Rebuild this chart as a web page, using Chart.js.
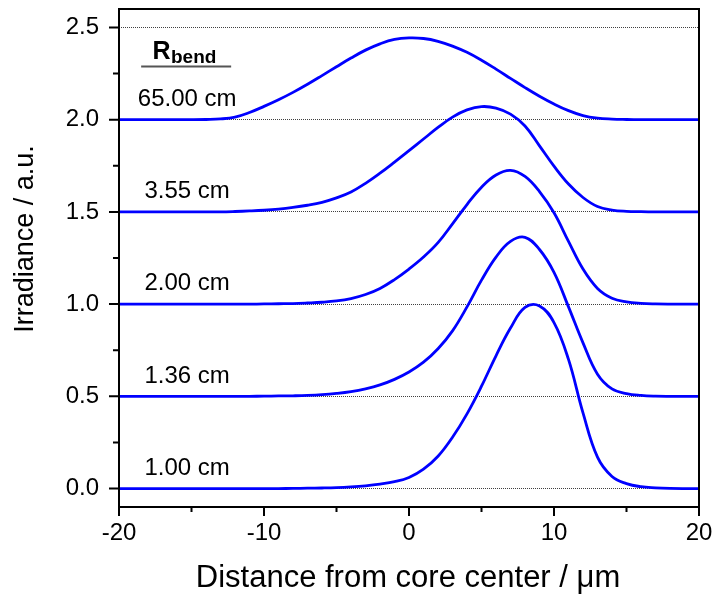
<!DOCTYPE html>
<html>
<head>
<meta charset="utf-8">
<script src="https://cdn.jsdelivr.net/npm/chart.js@4"></script>
<style>
  html, body { margin: 0; padding: 0; background: #fff; }
  #wrap { width: 717px; height: 596px; }
</style>
</head>
<body>
<div id="wrap"><canvas id="irr" width="717" height="596"></canvas></div>
<script>
// ── data ──────────────────────────────────────────────────────
// distance from core center (µm), shared by all curves
const distance = [-20, -19, -18, -17, -16, -15, -14, -13, -12, -11, -10, -9, -8, -7, -6, -5, -4, -3, -2, -1,
                  0, 1, 2, 3, 4, 5, 6, 7, 8, 9, 10, 11, 12, 13, 14, 15, 16, 17, 18, 19, 20];

// irradiance (a.u.), each curve stacked 0.5 above the previous one
const irr100 = [0, 0, 0, 0, 0, 0, 0, 0, 0, 0, 0, 0, 0.001, 0.002, 0.003, 0.005, 0.009, 0.015, 0.024, 0.037,
                0.06, 0.105, 0.175, 0.278, 0.405, 0.555, 0.72, 0.87, 0.982, 0.99, 0.9, 0.70, 0.41, 0.17, 0.065, 0.027, 0.01, 0.004, 0.001, 0, 0];
const irr136 = [0.5, 0.5, 0.5, 0.5, 0.5, 0.5, 0.5, 0.5, 0.5, 0.5, 0.501, 0.502, 0.503, 0.505, 0.509, 0.516, 0.526, 0.541, 0.562, 0.592,
                0.632, 0.685, 0.758, 0.855, 0.985, 1.13, 1.255, 1.34, 1.362, 1.296, 1.172, 0.985, 0.79, 0.62, 0.54, 0.515, 0.505, 0.501, 0.5, 0.5, 0.5];
const irr200 = [1.0, 1.0, 1.0, 1.0, 1.0, 1.0, 1.0, 1.0, 1.0, 1.0, 1.001, 1.002, 1.003, 1.006, 1.01, 1.017, 1.03, 1.052, 1.085, 1.133,
                1.19, 1.255, 1.333, 1.435, 1.54, 1.634, 1.7, 1.725, 1.692, 1.61, 1.495, 1.34, 1.19, 1.085, 1.032, 1.012, 1.004, 1.001, 1.0, 1.0, 1.0];
const irr355 = [1.5, 1.5, 1.5, 1.5, 1.5, 1.5, 1.5, 1.5, 1.502, 1.505, 1.509, 1.515, 1.524, 1.536, 1.552, 1.576, 1.608, 1.655, 1.71, 1.77,
                1.832, 1.895, 1.958, 2.014, 2.053, 2.071, 2.063, 2.03, 1.966, 1.858, 1.748, 1.651, 1.578, 1.529, 1.51, 1.503, 1.501, 1.5, 1.5, 1.5, 1.5];
const irr6500 = [2.0, 2.0, 2.0, 2.0, 2.0, 2.0, 2.001, 2.004, 2.014, 2.039, 2.072, 2.108, 2.148, 2.192, 2.239, 2.287, 2.334, 2.377, 2.411, 2.435,
                 2.443, 2.44, 2.425, 2.399, 2.365, 2.322, 2.274, 2.224, 2.174, 2.127, 2.085, 2.049, 2.022, 2.008, 2.003, 2.001, 2.0, 2.0, 2.0, 2.0, 2.0];

const bendRadii = ['1.00 cm', '1.36 cm', '2.00 cm', '3.55 cm', '65.00 cm'];
const baselines = [0, 0.5, 1.0, 1.5, 2.0];
const curves = [irr100, irr136, irr200, irr355, irr6500];

const xMajor = [-20, -10, 0, 10, 20];
const xMinor = [-15, -5, 5, 15];
const yMajor = [0, 0.5, 1.0, 1.5, 2.0, 2.5];
const yMinor = [0.25, 0.75, 1.25, 1.75, 2.25];

const FONT = '"Liberation Sans", Arial, sans-serif';

// frame, tick marks and the text that sits on the plot
const decor = {
    id: 'decor',
    afterDatasetsDraw(chart) {
        const { ctx, chartArea: a, scales: { x, y } } = chart;
        ctx.save();
        ctx.strokeStyle = '#000';
        ctx.lineWidth = 2;
        ctx.strokeRect(a.left, a.top, a.right - a.left, a.bottom - a.top);
        ctx.beginPath();
        y.ticks.forEach(t => {
            const py = y.getPixelForValue(t.value);
            const len = yMajor.includes(t.value) ? 10 : 6;
            ctx.moveTo(a.left - len, py); ctx.lineTo(a.left, py);
        });
        x.ticks.forEach(t => {
            const px = x.getPixelForValue(t.value);
            const len = xMajor.includes(t.value) ? 9 : 5;
            ctx.moveTo(px, a.bottom); ctx.lineTo(px, a.bottom + len);
        });
        ctx.stroke();
        ctx.restore();
    },
    afterDraw(chart) {
        const { ctx, chartArea: a, scales: { x, y } } = chart;
        ctx.save();
        ctx.fillStyle = '#000';

        // curve labels
        const cx = x.getPixelForValue(-15.3);
        ctx.font = '24px ' + FONT;
        ctx.textAlign = 'center';
        ctx.textBaseline = 'middle';
        bendRadii.forEach((lab, i) => ctx.fillText(lab, cx, y.getPixelForValue(baselines[i] + 0.11)));

        // R_bend header
        const top = y.getPixelForValue(2.5);
        ctx.textAlign = 'left';
        ctx.textBaseline = 'alphabetic';
        ctx.font = 'bold 25px ' + FONT;
        const rx = cx - 34.7;
        ctx.fillText('R', rx, top + 31.7);
        const rw = ctx.measureText('R').width;
        ctx.font = 'bold 19px ' + FONT;
        ctx.fillText('bend', rx + rw + 0.5, top + 35.7);
        ctx.strokeStyle = '#555';
        ctx.lineWidth = 2;
        ctx.beginPath();
        ctx.moveTo(cx - 46, top + 39); ctx.lineTo(cx + 44, top + 39);
        ctx.stroke();

        // axis titles
        ctx.textAlign = 'center';
        ctx.font = '31px ' + FONT;
        ctx.fillText('Distance from core center / \u03bcm', (a.left + a.right) / 2 - 1, 586.5);
        ctx.translate(33, 239);
        ctx.rotate(-Math.PI / 2);
        ctx.font = '27px ' + FONT;
        ctx.fillText('Irradiance / a.u.', 0, 0);
        ctx.restore();
    }
};

const chart = new Chart(document.getElementById('irr'), {
    type: 'line',
    data: {
        datasets: curves.map((ys, i) => ({
            label: bendRadii[i],
            data: distance.map((d, j) => ({ x: d, y: ys[j] })),
            borderColor: '#0000ff',
            borderWidth: 2.8,
            pointRadius: 0,
            fill: false,
            tension: 0.4
        }))
    },
    options: {
        responsive: false,
        animation: false,
        devicePixelRatio: 1,
        layout: { padding: { left: 0, top: 9, right: 18, bottom: 0 } },
        plugins: { legend: { display: false }, tooltip: { enabled: false } },
        scales: {
            x: {
                type: 'linear', min: -20, max: 20,
                afterBuildTicks: s => { s.ticks = xMajor.concat(xMinor).sort((p, q) => p - q).map(v => ({ value: v })); },
                afterFit: s => { s.height = 89; s.paddingLeft = 0; s.paddingRight = 0; },
                grid: { display: false, drawTicks: false },
                border: { display: false },
                ticks: {
                    autoSkip: false, maxRotation: 0, padding: 12, color: '#000',
                    font: { family: FONT, size: 24 },
                    callback: v => xMajor.includes(v) ? String(v) : ''
                }
            },
            y: {
                min: -0.1, max: 2.6,
                afterBuildTicks: s => { s.ticks = yMajor.concat(yMinor).sort((p, q) => p - q).map(v => ({ value: v })); },
                afterFit: s => { s.width = 119; s.paddingTop = 0; s.paddingBottom = 0; },
                grid: {
                    drawTicks: false, lineWidth: 1,
                    color: c => yMajor.includes(c.tick.value) ? 'rgba(0,0,0,0.75)' : 'rgba(0,0,0,0)'
                },
                border: { display: false, dash: [1, 1] },
                ticks: {
                    autoSkip: false, padding: 20, color: '#000',
                    font: { family: FONT, size: 24 },
                    callback: v => yMajor.includes(v) ? v.toFixed(1) : ''
                }
            }
        }
    },
    plugins: [decor]
});
</script>
</body>
</html>
